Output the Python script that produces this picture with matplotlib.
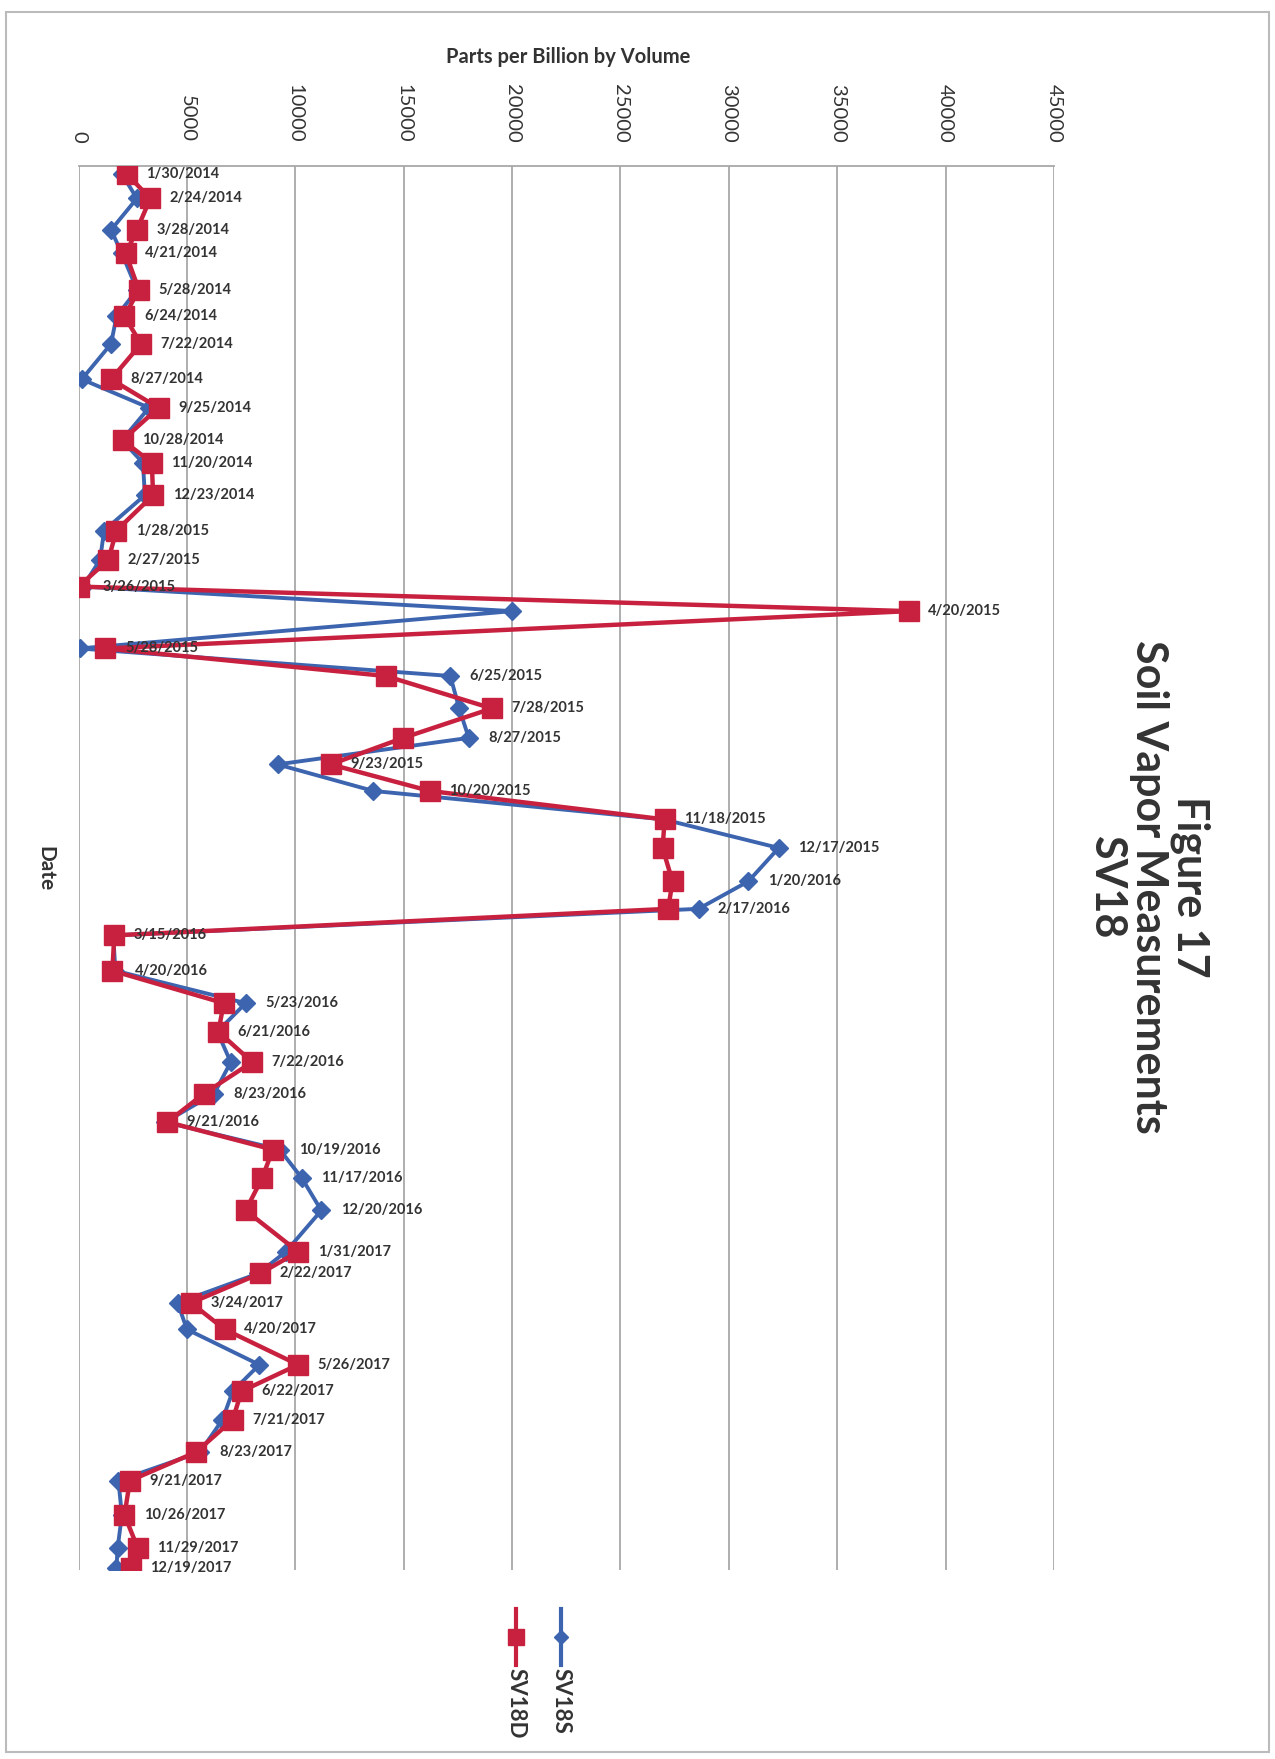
import matplotlib
matplotlib.use("Agg")
import matplotlib.pyplot as plt
from matplotlib.lines import Line2D
from matplotlib.patches import Rectangle
import pandas as pd

dates = ["1/30/2014", "2/24/2014", "3/28/2014", "4/21/2014", "5/28/2014", "6/24/2014",
         "7/22/2014", "8/27/2014", "9/25/2014", "10/28/2014", "11/20/2014", "12/23/2014",
         "1/28/2015", "2/27/2015", "3/26/2015", "4/20/2015", "5/28/2015", "6/25/2015",
         "7/28/2015", "8/27/2015", "9/23/2015", "10/20/2015", "11/18/2015", "12/17/2015",
         "1/20/2016", "2/17/2016", "3/15/2016", "4/20/2016", "5/23/2016", "6/21/2016",
         "7/22/2016", "8/23/2016", "9/21/2016", "10/19/2016", "11/17/2016", "12/20/2016",
         "1/31/2017", "2/22/2017", "3/24/2017", "4/20/2017", "5/26/2017", "6/22/2017",
         "7/21/2017", "8/23/2017", "9/21/2017", "10/26/2017", "11/29/2017", "12/19/2017"]

sv18s = [2000, 2690, 1500, 2000, 2700, 1750, 1500, 150, 3250, 2000, 2970, 3060,
         1180, 990, 200, 20000, 50, 17150, 17560, 18000, 9180, 13600, 27000, 32300,
         30900, 28600, 1600, 1700, 7710, 6400, 7020, 6260, 4000, 9280, 10300, 11200,
         9560, 8300, 4570, 5000, 8340, 7110, 6640, 5600, 1840, 2000, 1800, 1750]

sv18d = [2220, 3310, 2690, 2180, 2780, 2120, 2880, 1500, 3690, 2030, 3380, 3440,
         1750, 1370, 0, 38300, 1240, 14170, 19070, 14980, 11630, 16200, 27040, 26940,
         27400, 27200, 1650, 1560, 6700, 6450, 8010, 5790, 4100, 8960, 8470, 7710,
         10130, 8390, 5190, 6740, 10130, 7520, 7110, 5420, 2370, 2120, 2740, 2400]

x_ticks = [0, 5000, 10000, 15000, 20000, 25000, 30000, 35000, 40000, 45000]

BLUE = "#3C64AF"
RED = "#C8213F"
TXT = "#333333"

plt.rcParams['font.family'] = ['Lato', 'DejaVu Sans']

d = pd.to_datetime(dates, format="%m/%d/%Y")

fig = plt.figure(figsize=(12.75, 17.59), dpi=100)
ax = fig.add_axes([0.0616, 0.1074, 0.7651, 0.7982])

ax.plot(sv18s, d, color=BLUE, lw=2.8, marker="D", ms=9, zorder=3)
ax.plot(sv18d, d, color=RED, lw=3.2, marker="s", ms=14, zorder=4)

for lab, dt, a, b in zip(dates, d, sv18s, sv18d):
    ax.annotate(lab, xy=(max(a, b), dt), xytext=(14, 0), textcoords="offset points",
                ha="left", va="center", fontsize=10.5, fontweight="bold", color=TXT, zorder=5)

ax.set_xlim(0, 45000)
ax.set_ylim(pd.Timestamp("2017-12-21"), pd.Timestamp("2014-01-22"))
ax.set_xticks(x_ticks)
ax.set_xticklabels([str(t) for t in x_ticks])
ax.xaxis.tick_top()
ax.tick_params(axis="x", length=0, pad=17, labelsize=14.5, labelcolor=TXT, labelrotation=-90)
ax.set_yticks([])
ax.grid(axis="x", color="#a8a8a8", lw=1.3)
for s in ["left", "right", "bottom"]:
    ax.spines[s].set_visible(False)
ax.spines["top"].set_color("#a8a8a8")
ax.spines["top"].set_linewidth(1.3)

fig.text(0.4455, 0.9676, "Parts per Billion by Volume", ha="center", va="center",
         fontsize=14.5, fontweight="bold", color=TXT)
fig.text(0.0353, 0.506, "Date", ha="center", va="center", rotation=-90,
         fontsize=15, fontweight="bold", color=TXT)
fig.text(0.901, 0.496, "Figure 17\nSoil Vapor Measurements\nSV18", ha="center", va="center",
         rotation=-90, fontsize=31, fontweight="bold", color=TXT, linespacing=1.05)

# legend, drawn rotated like the rest of the page
for xf, col, mk, ms, name in [(0.44, BLUE, "D", 7, "SV18S"), (0.4047, RED, "s", 11, "SV18D")]:
    fig.add_artist(Line2D([xf, xf], [0.0853, 0.0535], color=col, lw=3, transform=fig.transFigure))
    fig.add_artist(Line2D([xf], [0.0694], color=col, marker=mk, ms=ms, transform=fig.transFigure))
    fig.text(xf, 0.0517, name, ha="center", va="top", rotation=-90, fontsize=16,
             fontweight="bold", color=TXT)

fig.add_artist(Rectangle((0.005, 0.004), 0.99, 0.989, fill=False, ec="#bbbbbb", lw=1.5,
                         transform=fig.transFigure))

fig.savefig("out.png", dpi=100)
